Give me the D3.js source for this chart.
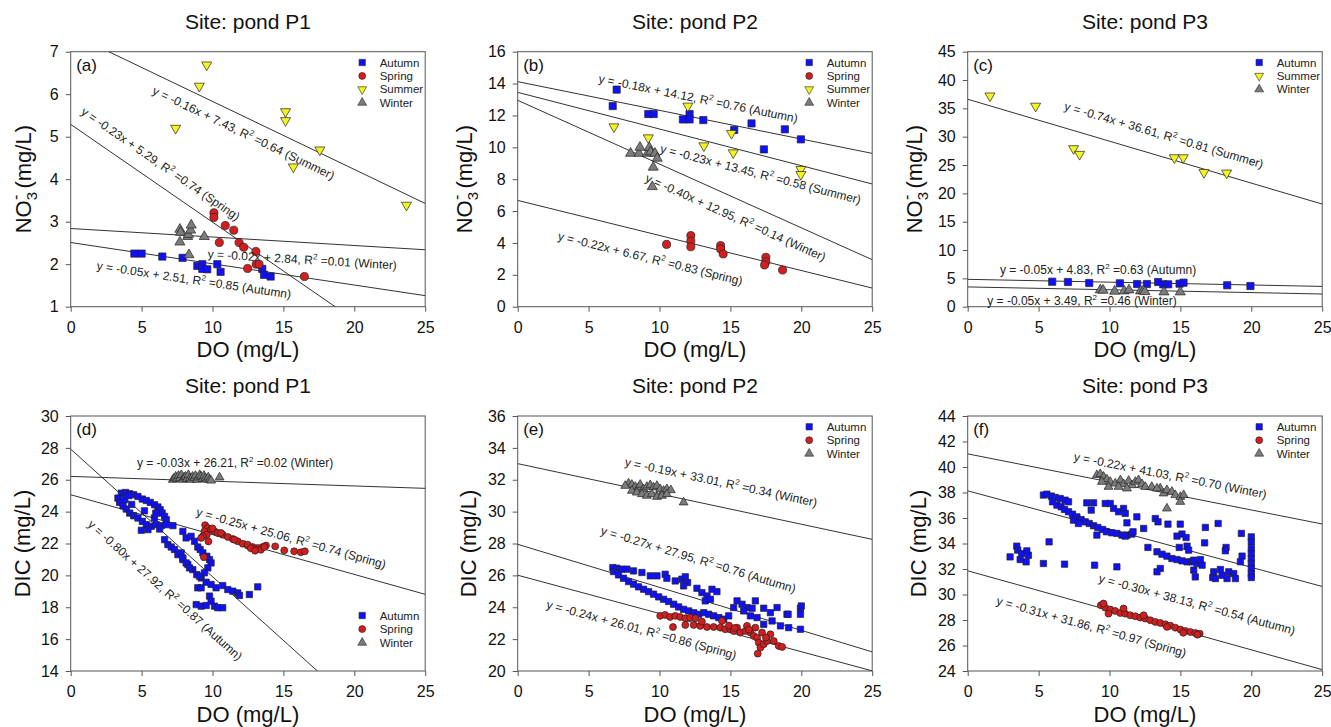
<!DOCTYPE html>
<html>
<head>
<meta charset="utf-8">
<script src="https://cdn.jsdelivr.net/npm/d3@7"></script>
<style>
  body { margin: 0; background: #fff; }
  svg { font-family: Arial, "Liberation Sans", sans-serif; }
</style>
</head>
<body>
<svg id="chart" width="1331" height="727"></svg>
<script>
const xTicks = [0, 5, 10, 15, 20, 25];

// ---- panel (a): NO3 vs DO, pond P1
const aAutumn = [[4.49,2.25],[5.0,2.25],[6.46,2.18],[7.89,2.15],[8.93,1.96],[9.28,2.0],[9.28,1.89],[9.63,1.88],[10.34,2.0],[10.57,1.82],[13.51,1.89],[13.63,1.75],[14.1,1.71]];
const aSpring = [[10.1,3.21],[10.1,3.1],[10.9,2.91],[11.5,2.8],[10.48,2.51],[11.87,2.51],[12.2,2.4],[13.06,2.3],[13.08,2.0],[13.28,2.0],[12.48,1.9],[16.48,1.71]];
const aSummer = [[9.59,6.69],[9.07,6.19],[7.4,5.2],[15.15,5.59],[15.15,5.38],[15.7,4.29],[17.57,4.69],[23.68,3.39]];
const aWinter = [[7.7,2.82],[7.75,2.75],[7.7,2.52],[8.25,2.65],[8.3,2.7],[8.46,2.8],[8.5,2.92],[9.42,2.65],[8.34,2.22]];
const aFits = [["Summer",-0.16,7.43,0.64],["Spring",-0.23,5.29,0.74],["Winter",-0.02,2.84,0.01],["Autumn",-0.05,2.51,0.85]];

// ---- panel (b): NO3 vs DO, pond P2
const bAutumn = [[6.98,13.62],[6.7,12.59],[9.21,12.09],[9.59,12.09],[11.65,11.75],[12.12,12.09],[12.12,11.75],[13.09,11.71],[15.27,11.09],[16.49,11.5],[17.36,9.87],[18.84,11.13],[19.97,10.5]];
const bSpring = [[10.5,3.91],[12.21,4.46],[12.21,4.12],[12.21,3.76],[14.31,3.83],[14.31,3.62],[14.49,3.31],[17.5,3.1],[17.5,2.82],[17.41,2.62],[18.68,2.3]];
const bSummer = [[6.79,11.29],[9.21,10.6],[12.0,12.59],[13.13,10.1],[15.08,10.88],[15.2,9.66],[19.97,8.62],[19.97,8.3]];
const bWinter = [[7.96,9.62],[8.55,9.62],[8.62,10.0],[9.16,9.62],[9.28,9.98],[9.37,9.71],[9.68,9.62],[9.84,9.31],[9.56,8.75],[9.49,7.53]];
const bFits = [["Autumn",-0.18,14.12,0.76],["Summer",-0.23,13.45,0.58],["Winter",-0.40,12.95,0.14],["Spring",-0.22,6.67,0.83]];

// ---- panel (c): NO3 vs DO, pond P3
const cAutumn = [[5.96,4.41],[7.07,4.36],[8.57,4.18],[10.73,4.13],[11.95,4.0],[12.64,4.0],[13.43,4.36],[13.79,3.95],[14.14,3.95],[14.94,4.06],[15.22,4.24],[18.3,3.78],[19.94,3.65]];
const cSummer = [[1.57,37.2],[4.79,35.4],[7.47,27.9],[7.89,26.9],[14.57,26.3],[15.2,26.3],[16.66,23.7],[18.26,23.6]];
const cWinter = [[9.35,2.95],[9.55,2.9],[10.36,2.72],[11.04,2.77],[11.37,2.95],[12.19,2.77],[12.38,2.82],[12.5,2.65],[13.84,2.6],[14.99,2.6]];
const cFits = [["Summer",-0.74,36.61,0.81],["Autumn",-0.05,4.83,0.63],["Winter",-0.05,3.49,0.46]];

// ---- panel (d): DIC vs DO, pond P1
const dAutumn = [[3.57,25.16],[3.87,25.2],[4.16,25.12],[4.44,25.06],[4.74,24.95],[5.05,24.79],[5.33,24.7],[5.61,24.58],[5.92,24.43],[6.15,24.29],[6.31,24.12],[6.45,23.91],[6.62,23.7],[6.74,23.49],
  [3.33,24.85],[3.45,24.58],[3.69,24.37],[3.92,24.16],[4.16,23.91],[4.44,23.74],[4.74,23.6],[5.05,23.39],[5.33,23.18],[5.68,23.08],[6.03,23.18],[6.38,23.12],[6.74,23.18],[7.21,23.12],
  [4.98,22.83],[5.45,22.87],[6.27,22.91],[6.62,22.24],[6.85,21.93],[7.09,21.78],[7.32,21.62],[7.56,21.3],[7.91,20.99],[8.26,20.68],[8.61,20.36],[8.89,20.05],[9.2,19.84],[9.55,19.57],
  [9.9,19.43],[10.25,19.22],[10.72,19.36],[11.08,19.11],[11.43,19.01],[11.78,18.9],[11.9,18.74],[12.6,18.8],[13.19,19.28],[7.91,22.76],[8.14,22.35],[8.49,22.45],[8.73,22.14],[8.96,21.78],
  [9.13,21.62],[9.32,21.41],[9.6,21.2],[9.79,20.99],[9.9,20.78],[9.67,20.47],[9.43,20.16],[9.08,19.95],[7.79,21.41],[7.91,21.09],[8.14,20.78],[8.38,20.47],[8.96,19.22],[9.2,19.22],
  [8.85,18.17],[9.2,18.07],[9.55,18.11],[9.79,18.7],[9.9,18.38],[10.14,18.07],[10.37,17.97],[10.72,17.97],[3.8,24.75],[4.3,24.45],[5.2,24.05],[5.9,23.6],[4.1,25.0],[6.0,23.9]];
const dSpring = [[9.48,23.15],[9.67,22.97],[9.43,22.76],[9.6,22.55],[9.9,22.87],[10.14,22.76],[10.37,22.66],[10.72,22.55],[11.08,22.41],[11.43,22.28],[11.78,22.14],[12.13,21.99],[12.48,21.87],
  [12.83,21.78],[13.19,21.72],[13.54,21.78],[13.77,21.87],[9.32,22.45],[9.2,22.35],[9.39,21.14],[9.71,22.13],[10.6,22.66],[11.54,22.24],[12.48,21.93],[12.95,21.66],[13.41,21.61],
  [13.65,21.78],[14.42,21.82],[15.06,21.57],[15.76,21.51],[16.23,21.45],[16.51,21.51],[10.0,22.95],[12.7,21.7],[13.0,21.55]];
const dWinter = [[7.2,26.0],[7.3,26.1],[7.4,26.2],[7.5,26.05],[7.6,26.25],[7.7,26.1],[7.8,26.3],[7.9,26.0],[8.0,26.15],[8.1,26.2],[8.2,26.05],[8.3,26.3],[8.4,26.1],[8.5,26.0],
  [8.6,26.2],[8.7,26.1],[8.8,26.25],[8.9,26.0],[9.0,26.15],[9.1,26.3],[9.2,26.2],[9.3,26.05],[9.4,26.25],[9.5,26.1],[9.6,26.0],[9.7,26.15],[9.8,26.0],[9.9,25.95],[10.5,26.15]];
const dFits = [["Winter",-0.03,26.21,0.02],["Spring",-0.25,25.06,0.74],["Autumn",-0.80,27.92,0.87]];

// ---- panel (e): DIC vs DO, pond P2
const eAutumn = [[6.71,26.49],[6.99,26.45],[7.34,26.39],[7.7,26.39],[8.17,26.28],[8.76,26.18],[9.35,25.97],[9.82,25.97],[10.4,26.07],[10.52,25.82],[11.11,25.65],[11.58,25.76],[11.82,25.91],
  [11.98,25.55],[11.7,25.34],[12.64,25.19],[12.99,24.92],[13.35,24.71],[13.7,25.13],[14.05,24.98],[13.23,24.4],[13.59,24.5],[6.76,26.24],[7.11,26.03],[7.46,25.82],[7.82,25.61],[8.17,25.45],
  [8.52,25.28],[8.88,25.13],[9.23,24.98],[9.58,24.82],[9.94,24.65],[10.29,24.5],[10.64,24.36],[11.0,24.19],[11.35,24.02],[11.7,23.87],[12.06,23.77],[12.41,23.66],[12.76,23.56],[13.12,23.66],
  [13.47,23.56],[13.82,23.46],[14.18,23.35],[14.53,23.25],[14.88,23.46],[15.47,24.4],[15.82,24.19],[16.17,23.98],[16.53,23.94],[16.76,24.4],[17.35,23.94],[17.82,23.66],[18.29,23.98],
  [18.99,23.56],[19.94,23.94],[19.94,23.56],[19.94,22.62],[18.53,22.83],[19.11,22.72],[17.94,23.14],[17.35,22.93],[16.88,23.35],[16.41,23.46],[15.94,23.77],[15.23,23.98],[20.0,24.08],[19.07,23.56]];
const eSpring = [[10.05,23.46],[10.4,23.52],[10.75,23.39],[11.11,23.46],[11.46,23.39],[11.82,23.31],[12.17,23.35],[12.53,23.31],[10.95,22.76],[11.82,22.89],[12.41,22.89],[12.88,22.83],
  [13.35,22.76],[13.82,22.76],[14.29,22.72],[14.64,22.62],[15.0,22.62],[15.23,22.51],[15.47,22.72],[15.7,22.41],[16.06,22.51],[16.41,22.41],[16.65,22.2],[16.88,22.09],[17.0,21.78],
  [17.12,21.47],[16.93,21.09],[17.35,21.68],[17.59,21.88],[17.82,22.3],[18.06,21.88],[18.41,21.57],[18.65,21.51],[17.23,22.41],[16.76,22.72],[16.17,22.83],[14.41,23.14],[12.99,23.1],
  [14.9,22.85],[15.3,22.7],[16.3,22.6],[17.5,22.1]];
const eWinter = [[7.82,31.77],[8.05,31.69],[8.29,31.56],[8.52,31.52],[8.64,31.69],[8.87,31.41],[9.11,31.56],[9.35,31.66],[9.58,31.52],[9.82,31.62],[10.05,31.41],[10.29,31.31],[10.52,31.41],
  [10.8,31.35],[8.05,31.31],[8.4,31.2],[8.76,31.1],[9.11,31.0],[9.46,31.1],[9.82,30.93],[10.17,31.0],[10.52,31.1],[7.58,31.62],[11.7,30.58]];
const eFits = [["Winter",-0.19,33.01,0.34],["Autumn",-0.27,27.95,0.76],["Spring",-0.24,26.01,0.86]];

// ---- panel (f): DIC vs DO, pond P3
const fAutumn = [[5.34,37.8],[5.58,37.87],[5.89,37.72],[6.17,37.61],[6.52,37.53],[6.87,37.4],[7.11,37.27],[5.98,37.27],[6.29,37.01],[6.59,36.88],[6.83,36.67],[7.11,36.49],[7.39,36.3],
  [7.7,36.09],[8.0,35.88],[8.29,35.7],[8.57,35.57],[8.88,35.39],[9.18,35.26],[9.51,35.1],[9.78,34.92],[10.17,34.84],[10.52,34.79],[10.88,34.66],[11.24,34.66],[11.58,34.74],[7.46,35.83],[7.81,35.57],
  [8.4,37.19],[8.88,37.19],[8.71,36.62],[9.7,37.14],[10.05,37.14],[10.29,36.75],[10.64,36.49],[10.99,36.75],[11.11,36.36],[11.93,36.09],[11.23,35.62],[12.41,35.18],[13.23,35.96],[13.42,35.7],
  [14.12,35.52],[14.99,35.52],[16.76,35.26],[17.66,35.57],[14.76,34.58],[15.11,34.74],[15.4,34.47],[14.92,33.69],[15.47,33.79],[16.71,34.05],[15.58,33.48],
  [13.35,33.35],[13.7,33.16],[14.05,33.01],[14.4,32.82],[14.76,32.74],[15.11,32.64],[15.47,32.56],[15.82,32.56],[16.17,32.43],[16.53,32.3],[15.94,32.69],[16.41,32.74],[12.71,33.69],[13.58,32.04],
  [13.35,31.78],[15.94,31.91],[16.05,31.38],[17.35,31.78],[17.28,31.33],[17.82,31.96],[17.94,31.51],[18.41,31.78],[18.29,31.25],[18.76,31.64],[18.88,31.25],[17.47,31.25],[19.35,33.01],
  [19.3,34.79],[18.22,33.69],[18.17,33.43],[19.23,32.57],[20.0,34.52],[20.0,34.13],[20.0,33.61],[20.0,33.21],[20.0,32.82],[20.0,32.43],[20.0,32.04],[20.0,31.64],[20.0,31.33],
  [2.99,32.95],[3.46,33.79],[3.53,33.48],[3.81,33.21],[4.17,33.42],[4.28,33.08],[3.7,32.74],[4.12,32.56],[5.74,34.13],[5.34,32.43],[6.83,32.38],[8.95,32.3],[10.52,32.17],[9.11,34.66],[11.66,34.92],[11.11,34.58]];
const fSpring = [[9.39,29.16],[9.7,28.97],[10.05,28.82],[10.4,28.71],[10.76,28.55],[11.11,28.5],[11.46,28.37],[11.82,28.29],[12.17,28.19],[12.52,28.11],[12.88,27.98],[13.23,27.85],[13.58,27.77],
  [13.94,27.66],[14.29,27.56],[14.64,27.4],[15.0,27.25],[15.35,27.14],[15.7,27.06],[16.05,26.98],[16.36,26.93],[9.58,29.29],[9.93,28.5],[10.99,28.9],[12.41,28.37],[14.05,27.46],[15.2,27.0],[16.2,26.85]];
const fWinter = [[9.11,39.37],[9.35,39.45],[9.58,39.24],[9.82,39.03],[10.05,38.84],[10.41,38.71],[10.77,38.97],[11.0,38.66],[11.35,38.92],[11.59,38.58],[11.82,38.84],[12.05,38.97],[12.29,38.66],
  [12.52,38.45],[9.46,38.84],[9.93,38.45],[10.64,38.45],[11.23,38.32],[12.98,38.45],[13.58,38.32],[13.82,37.93],[14.05,38.19],[14.4,38.06],[14.64,37.8],[14.99,37.66],[15.23,37.8],[14.05,36.75],[13.35,38.32],[14.99,37.27]];
const fFits = [["Winter",-0.22,41.03,0.70],["Autumn",-0.30,38.13,0.54],["Spring",-0.31,31.86,0.97]];

// ---- styles & layout
const colors = { Autumn: "#1010ff", Spring: "#d21e1e", Summer: "#f4f41e", Winter: "#7c7c7c" };
const W = 354.5, H = 255;
const colX = [70.7, 517.7, 967.7];
const rowY = [51.7, 416];

const panels = [
  { tag: "(a)", title: "Site: pond P1", col: 0, row: 0, yDomain: [1, 7], yStep: 1, yName: "NO3", yOff: 40,
    series: { Autumn: aAutumn, Spring: aSpring, Summer: aSummer, Winter: aWinter }, fits: aFits,
    legend: ["Autumn", "Spring", "Summer", "Winter"], legendBottom: false,
    labelAt: [[12.19, 5.09], [6.34, 4.36], [16.33, 2.11], [8.69, 1.63]] },
  { tag: "(b)", title: "Site: pond P2", col: 1, row: 0, yDomain: [0, 16], yStep: 2, yName: "NO3", yOff: 46,
    series: { Autumn: bAutumn, Spring: bSpring, Summer: bSummer, Winter: bWinter }, fits: bFits,
    legend: ["Autumn", "Spring", "Summer", "Winter"], legendBottom: false,
    labelAt: [[12.73, 13.07], [17.13, 8.32], [15.37, 5.6], [9.35, 3.03]] },
  { tag: "(c)", title: "Site: pond P3", col: 2, row: 0, yDomain: [0, 45], yStep: 5, yName: "NO3", yOff: 46,
    series: { Autumn: cAutumn, Summer: cSummer, Winter: cWinter }, fits: cFits,
    legend: ["Autumn", "Summer", "Winter"], legendBottom: false,
    labelAt: [[13.84, 30.3], [9.19, 6.6], [8.06, 1.0]], flat: [false, true, true] },
  { tag: "(d)", title: "Site: pond P1", col: 0, row: 1, yDomain: [14, 30], yStep: 2, yName: "DIC", yOff: 41, small: true,
    series: { Autumn: dAutumn, Spring: dSpring, Winter: dWinter }, fits: dFits,
    legend: ["Autumn", "Spring", "Winter"], legendBottom: true,
    labelAt: [[11.59, 27.08], [15.55, 22.34], [6.66, 19.07]], flat: [true, false, false] },
  { tag: "(e)", title: "Site: pond P2", col: 1, row: 1, yDomain: [20, 36], yStep: 2, yName: "DIC", yOff: 42, small: true,
    series: { Autumn: eAutumn, Spring: eSpring, Winter: eWinter }, fits: eFits,
    legend: ["Autumn", "Spring", "Winter"], legendBottom: false,
    labelAt: [[14.34, 31.85], [12.74, 27.0], [8.73, 22.6]] },
  { tag: "(f)", title: "Site: pond P3", col: 2, row: 1, yDomain: [24, 44], yStep: 2, yName: "DIC", yOff: 42, small: true,
    series: { Autumn: fAutumn, Spring: fSpring, Winter: fWinter }, fits: fFits,
    legend: ["Autumn", "Spring", "Winter"], legendBottom: false,
    labelAt: [[14.29, 39.34], [16.17, 29.24], [8.73, 27.48]] }
];

const svg = d3.select("#chart");

function symbolPath(season, small) {
  const sizes = small ? { sq: 40, ci: 38, tr: 34 } : { sq: 52, ci: 52, tr: 44 };
  if (season === "Autumn") return d3.symbol(d3.symbolSquare, sizes.sq)();
  if (season === "Spring") return d3.symbol(d3.symbolCircle, sizes.ci)();
  return d3.symbol(d3.symbolTriangle, sizes.tr)();
}

panels.forEach((p, pi) => {
  const g = svg.append("g").attr("transform", `translate(${colX[p.col]},${rowY[p.row]})`);
  const x = d3.scaleLinear().domain([0, 25]).range([0, W]);
  const y = d3.scaleLinear().domain(p.yDomain).range([H, 0]);

  const clipId = "clip" + pi;
  g.append("clipPath").attr("id", clipId).append("rect").attr("width", W).attr("height", H);

  // axes
  const xAxis = g.append("g").attr("transform", `translate(0,${H})`)
    .call(d3.axisBottom(x).tickValues(xTicks).tickSize(5).tickPadding(10).tickFormat(d3.format("d")));
  const yAxis = g.append("g")
    .call(d3.axisLeft(y).tickValues(d3.range(p.yDomain[0], p.yDomain[1] + 0.001, p.yStep))
      .tickSize(5).tickPadding(7).tickFormat(d3.format("d")));
  [xAxis, yAxis].forEach(a => {
    a.select(".domain").remove();
    a.selectAll(".tick line").attr("stroke", "#555");
    a.selectAll(".tick text").attr("font-size", 16).attr("fill", "#111").attr("font-family", "Arial, 'Liberation Sans', sans-serif");
  });

  // frame
  g.append("rect").attr("width", W).attr("height", H).attr("fill", "none").attr("stroke", "#555").attr("stroke-width", 1);

  // fit lines
  const fitG = g.append("g").attr("clip-path", `url(#${clipId})`);
  p.fits.forEach(f => {
    fitG.append("line")
      .attr("x1", x(0)).attr("y1", y(f[2]))
      .attr("x2", x(25)).attr("y2", y(f[1] * 25 + f[2]))
      .attr("stroke", "#333").attr("stroke-width", 1);
  });

  // points
  Object.keys(p.series).forEach(season => {
    const path = symbolPath(season, p.small);
    g.append("g").selectAll("path")
      .data(p.series[season])
      .join("path")
      .attr("d", path)
      .attr("transform", d => `translate(${x(d[0])},${y(d[1])})` + (season === "Summer" ? " rotate(180)" : ""))
      .attr("fill", colors[season])
      .attr("stroke", "#222")
      .attr("stroke-width", 0.7);
  });

  // equation labels
  p.fits.forEach((f, i) => {
    const pos = p.labelAt[i];
    const pxSlope = (y(f[1]) - y(0)) / (x(1) - x(0));
    const ang = (p.flat && p.flat[i]) ? 0 : Math.atan(pxSlope) * 180 / Math.PI;
    const t = g.append("text")
      .attr("transform", `translate(${x(pos[0])},${y(pos[1])}) rotate(${ang})`)
      .attr("text-anchor", "middle").attr("dy", "0.35em")
      .attr("font-size", 12).attr("fill", "#222");
    t.append("tspan").text(`y = ${f[1].toFixed(2)}x + ${f[2].toFixed(2)}, R`);
    t.append("tspan").attr("dy", -5).attr("font-size", 8).text("2");
    t.append("tspan").attr("dy", 5).text(` =${f[3].toFixed(2)} (${f[0]})`);
  });

  // panel tag
  g.append("text").attr("x", 5.5).attr("y", 19).attr("font-size", 17).attr("fill", "#111").text(p.tag);

  // legend
  p.legend.forEach((s, i) => {
    const ly = p.legendBottom ? H - 55.5 + i * 13.6 : 10.8 + i * 13.4;
    g.append("path").attr("d", symbolPath(s, true))
      .attr("transform", `translate(${W - 63},${ly})` + (s === "Summer" ? " rotate(180)" : ""))
      .attr("fill", colors[s]).attr("stroke", "#222").attr("stroke-width", 0.6);
    g.append("text").attr("x", W - 45.5).attr("y", ly).attr("dy", "0.35em")
      .attr("font-size", 11.5).attr("fill", "#222").text(s);
  });

  // title
  g.append("text").attr("x", W / 2).attr("y", -23).attr("text-anchor", "middle")
    .attr("font-size", 21).attr("fill", "#111").text(p.title);

  // x label
  g.append("text").attr("x", W / 2).attr("y", H + 50.5).attr("text-anchor", "middle")
    .attr("font-size", 22).attr("fill", "#111").text("DO (mg/L)");

  // y label
  const yl = g.append("text").attr("transform", `translate(${-p.yOff},${H / 2}) rotate(-90)`)
    .attr("text-anchor", "middle").attr("font-size", 22).attr("fill", "#111");
  if (p.yName === "NO3") {
    yl.append("tspan").text("NO");
    yl.append("tspan").attr("font-size", 15).attr("dy", 6).text("3");
    yl.append("tspan").attr("font-size", 16).attr("dx", -8).attr("dy", -16).text("-");
    yl.append("tspan").attr("dy", 10).text(" (mg/L)");
  } else {
    yl.text("DIC (mg/L)");
  }
});
</script>
</body>
</html>
